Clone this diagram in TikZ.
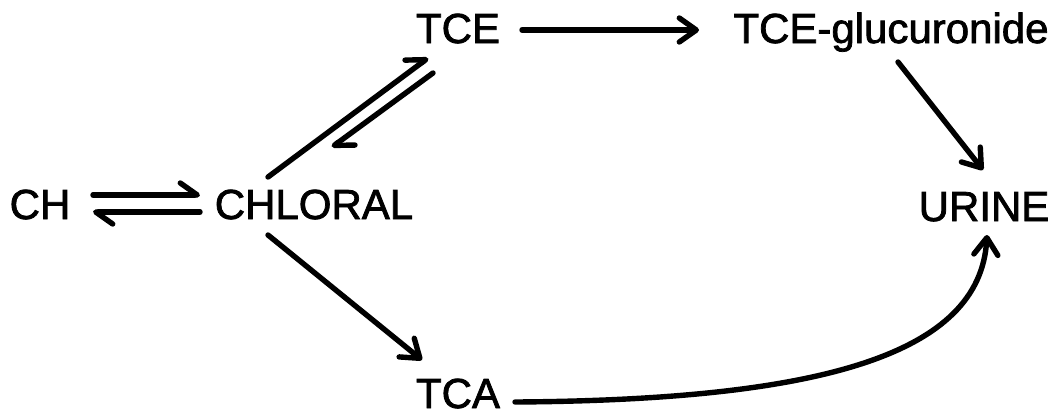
\documentclass[tikz,border=0pt]{standalone}
\usepackage{fontspec}
\setmainfont{Liberation Sans}[FakeBold=1.8]
\usetikzlibrary{arrows.meta,calc}

\tikzset{
  species/.style={anchor=base, inner sep=0pt, font=\fontsize{21pt}{24pt}\selectfont},
  react/.style={line width=2.7pt, line cap=round,
    -{Straight Barb[length=8.5pt,width=12pt,line width=2.7pt,round]}},
  revhalf/.style={line width=2.7pt, line cap=round,
    -{Straight Barb[length=8.5pt,width=12pt,line width=2.7pt,round,harpoon]}},
}

\begin{document}
\begin{tikzpicture}[x=0.5pt,y=-0.5pt]
  \useasboundingbox (0,0) rectangle (1058,414);

  % metabolites
  \node[species] (ch)      at (40,219)  {CH};
  \node[species] (chloral) at (314,219) {CHLORAL};
  \node[species] (tce)     at (458,43)  {TCE};
  \node[species] (gluc)    at (891,43)  {TCE-glucuronide};
  \node[species] (urine)   at (984,221) {URINE};
  \node[species] (tca)     at (458,408) {TCA};

  % CH <=> CHLORAL
  \draw[revhalf] ($(ch.base)+(53,-24)$) -- ($(chloral.base)+(-114,-24)$);
  \draw[revhalf] ($(chloral.base)+(-114,-7)$) -- ($(ch.base)+(53,-7)$);

  % CHLORAL <=> TCE
  \draw[revhalf] ($(chloral.base)+(-46,-42)$) -- ($(tce.base)+(-30,15)$);
  \draw[revhalf] ($(tce.base)+(-25,30)$) -- ($(chloral.base)+(18,-72)$);

  % CHLORAL -> TCA
  \draw[react] ($(chloral.base)+(-46,16)$) -- ($(tca.base)+(-36,-48)$);

  % TCE -> TCE-glucuronide -> URINE
  \draw[react] ($(tce.base)+(64,-13)$) -- ($(gluc.base)+(-192,-13)$);
  \draw[react] ($(gluc.base)+(7,19)$) -- ($(urine.base)+(-1,-51)$);

  % TCA -> URINE
  \draw[react] ($(tca.base)+(57,-6)$)
    .. controls ($(tca.base)+(362,-8)$) and ($(urine.base)+(-4,134)$)
    .. ($(urine.base)+(3,14)$);
\end{tikzpicture}
\end{document}
